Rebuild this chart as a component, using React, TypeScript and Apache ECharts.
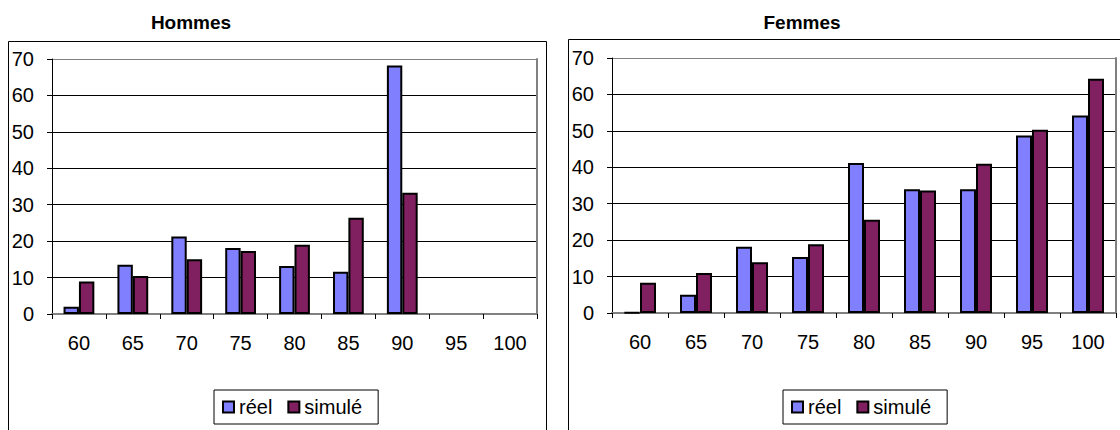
import React, { useEffect, useRef } from "react";
import * as echarts from "echarts";

const categories = ["60", "65", "70", "75", "80", "85", "90", "95", "100"];
const hommesReel = [2.0, 13.5, 21.3, 18.1, 13.2, 11.6, 68.2, null, null];
const hommesSimule = [8.9, 10.4, 15.0, 17.3, 19.0, 26.4, 33.3, null, null];
const femmesReel = [0.2, 5.0, 18.2, 15.4, 41.2, 34.0, 34.0, 48.7, 54.2];
const femmesSimule = [8.3, 11.0, 13.9, 18.9, 25.6, 33.6, 41.0, 50.3, 64.3];
const seriesNames = ["réel", "simulé"];
const panelTitles = ["Hommes", "Femmes"];

const FONT = "Arial, 'Liberation Sans', sans-serif";
const COL_REEL = "#8080FF";
const COL_SIM = "#802060";

export default function App() {
  const ref = useRef<HTMLDivElement>(null);
  useEffect(() => {
    if (!ref.current) return;
    const chart = echarts.init(ref.current, undefined, { renderer: "svg" });
    const grids = [
      { left: 52, top: 59, width: 485, height: 255 },
      { left: 612, top: 58, width: 504, height: 255 },
    ];
    const xAxes: any[] = [];
    const yAxes: any[] = [];
    grids.forEach((_, i) => {
      xAxes.push({
        type: "category",
        gridIndex: i,
        data: categories,
        boundaryGap: true,
        axisLine: { show: true, lineStyle: { color: "#000", width: 1 } },
        axisTick: { show: true, length: 5, alignWithLabel: false, lineStyle: { color: "#000" } },
        axisLabel: { color: "#000", fontSize: 20, fontFamily: FONT, margin: 19, interval: 0 },
        splitLine: { show: false },
      });
      xAxes.push({
        type: "category",
        gridIndex: i,
        position: "top",
        data: categories,
        axisLine: { show: true, lineStyle: { color: "#808080", width: 2 } },
        axisTick: { show: false },
        axisLabel: { show: false },
        splitLine: { show: false },
      });
      yAxes.push({
        type: "value",
        gridIndex: i,
        min: 0,
        max: 70,
        interval: 10,
        axisLine: { show: true, lineStyle: { color: "#000", width: 1 } },
        axisTick: { show: true, length: 5, inside: false, lineStyle: { color: "#000" } },
        axisLabel: { color: "#000", fontSize: 20, fontFamily: FONT, margin: 18 },
        splitLine: {
          show: true,
          lineStyle: {
            color: ["#000", "#000", "#000", "#000", "#000", "#000", "#000", "#808080"],
            width: 1,
          },
        },
      });
      yAxes.push({
        type: "value",
        gridIndex: i,
        position: "right",
        min: 0,
        max: 70,
        interval: 10,
        axisLine: { show: true, lineStyle: { color: "#808080", width: 2 } },
        axisTick: { show: false },
        axisLabel: { show: false },
        splitLine: { show: false },
      });
    });
    const barCommon = {
      type: "bar",
      barGap: "0%",
      barCategoryGap: "42.86%",
      itemStyle: { borderColor: "#000", borderWidth: 2 },
    };
    const series: any[] = [
      { ...barCommon, name: seriesNames[0], xAxisIndex: 0, yAxisIndex: 0, data: hommesReel, itemStyle: { ...barCommon.itemStyle, color: COL_REEL } },
      { ...barCommon, name: seriesNames[1], xAxisIndex: 0, yAxisIndex: 0, data: hommesSimule, itemStyle: { ...barCommon.itemStyle, color: COL_SIM } },
      { ...barCommon, name: seriesNames[0], xAxisIndex: 2, yAxisIndex: 2, data: femmesReel, itemStyle: { ...barCommon.itemStyle, color: COL_REEL } },
      { ...barCommon, name: seriesNames[1], xAxisIndex: 2, yAxisIndex: 2, data: femmesSimule, itemStyle: { ...barCommon.itemStyle, color: COL_SIM } },
    ];
    const legendData = [
      { name: seriesNames[0], itemStyle: { color: COL_REEL, borderColor: "#000", borderWidth: 2 } },
      { name: seriesNames[1], itemStyle: { color: COL_SIM, borderColor: "#000", borderWidth: 2 } },
    ];
    const legendCommon = {
      data: legendData,
      orient: "horizontal",
      top: 390,
      icon: "rect",
      itemWidth: 11,
      itemHeight: 11,
      itemGap: 15,
      padding: [7, 16, 7, 8],
      borderColor: "#000",
      borderWidth: 1,
      backgroundColor: "#fff",
      selectedMode: false,
      textStyle: { color: "#000", fontSize: 20, fontFamily: FONT },
    };
    chart.setOption({
      animation: false,
      backgroundColor: "#fff",
      title: [
        {
          text: panelTitles[0],
          left: 186,
          top: 8,
          textAlign: "center",
          textStyle: { fontSize: 19, fontWeight: "bold", fontFamily: FONT, color: "#000" },
        },
        {
          text: panelTitles[1],
          left: 797,
          top: 8,
          textAlign: "center",
          textStyle: { fontSize: 19, fontWeight: "bold", fontFamily: FONT, color: "#000" },
        },
      ],
      graphic: [
        {
          type: "rect",
          z: -1,
          shape: { x: 8.5, y: 41.5, width: 538, height: 420 },
          style: { fill: "none", stroke: "#000", lineWidth: 1 },
        },
        {
          type: "rect",
          z: -1,
          shape: { x: 568.5, y: 39.5, width: 600, height: 420 },
          style: { fill: "none", stroke: "#000", lineWidth: 1 },
        },
      ],
      legend: [
        { ...legendCommon, left: 214 },
        { ...legendCommon, left: 783 },
      ],
      grid: grids,
      xAxis: xAxes,
      yAxis: yAxes,
      series,
    });
    return () => chart.dispose();
  }, []);
  return (
    <div
      ref={ref}
      style={{ position: "absolute", left: 0, top: 0, width: 1120, height: 430 }}
    />
  );
}
